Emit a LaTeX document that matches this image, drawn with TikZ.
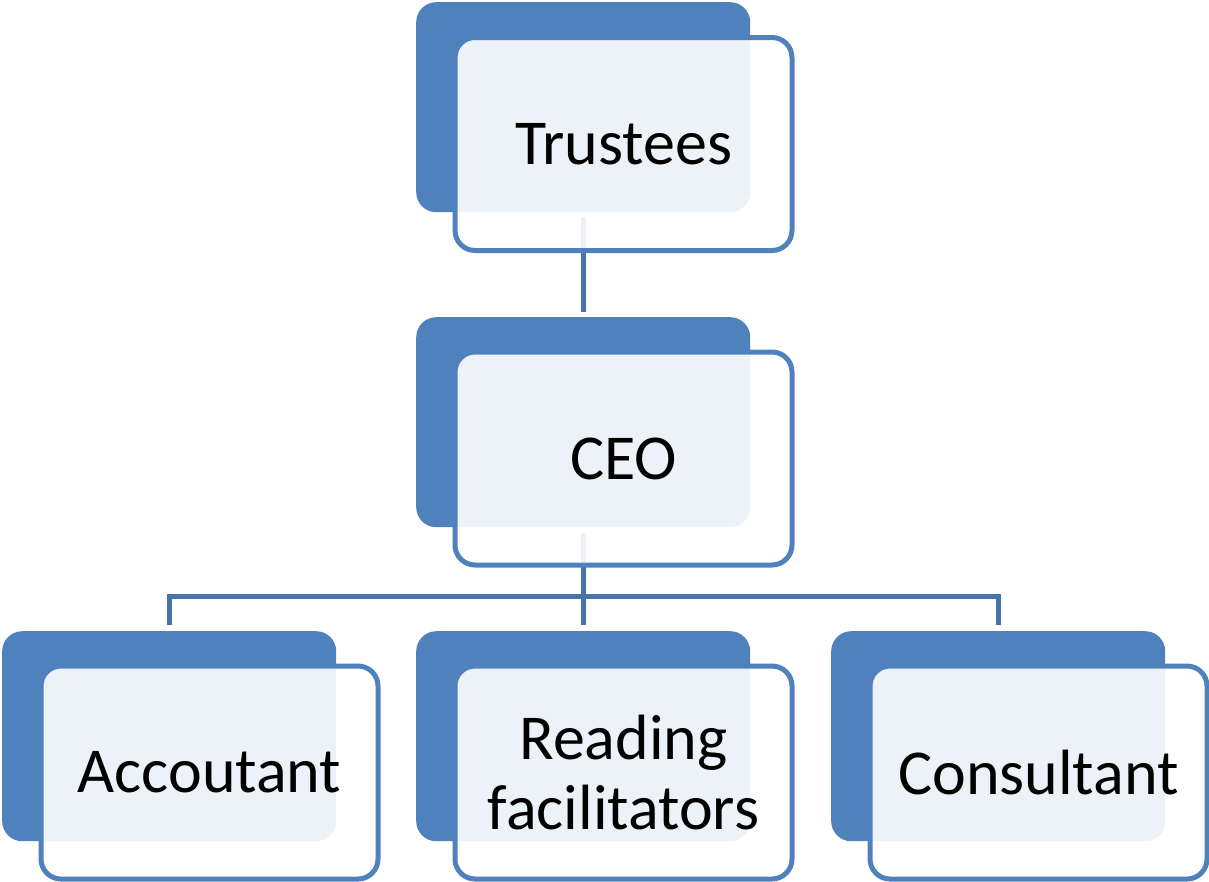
\documentclass[tikz,border=0pt]{standalone}
\usepackage{fontspec}
\setmainfont{Carlito}
\definecolor{boxblue}{RGB}{79,129,189}
\definecolor{linkblue}{RGB}{72,116,170}
\tikzset{
  backbox/.style={rectangle, rounded corners=20pt, fill=boxblue, draw=none,
    minimum width=334pt, minimum height=210pt, inner sep=0pt, anchor=north west},
  frontbox/.style={rectangle, rounded corners=20pt, fill=white, fill opacity=0.9, text opacity=1,
    draw=boxblue, line width=5pt, minimum width=337pt, minimum height=213pt, inner sep=0pt,
    anchor=north west, align=center, font=\fontsize{64}{70}\selectfont},
  conn/.style={draw=linkblue, line width=5pt}
}
\begin{document}
\begin{tikzpicture}[x=1pt,y=-1pt]
\useasboundingbox (0,0) rectangle (1209,881);
% back boxes
\node[backbox] (tb) at (416,2) {};
\node[backbox] (cb) at (416,317) {};
\node[backbox] (lb) at (2,631) {};
\node[backbox] (mb) at (416,631) {};
\node[backbox] (rb) at (831,631) {};
% connectors
\coordinate (bar) at (0,596);
\draw[conn] ([yshift=-5pt]tb.south) -- ([yshift=5pt]cb.north);
\draw[conn] ([yshift=-6pt]cb.south) -- ([yshift=6pt]mb.north);
\draw[conn] ([yshift=6pt]lb.north) -- (lb.north |- bar) -- (rb.north |- bar) -- ([yshift=6pt]rb.north);
% front boxes
\node[frontbox] (t) at (452.5,35) {Trustees};
\node[frontbox] (c) at (452.5,349.5) {CEO};
\node[frontbox] (l) at (38.5,663.5) {Accoutant};
\node[frontbox] (m) at (452.5,663.5) {Reading\\facilitators};
\node[frontbox] (r) at (867.5,663.5) {Consultant};
\end{tikzpicture}
\end{document}
